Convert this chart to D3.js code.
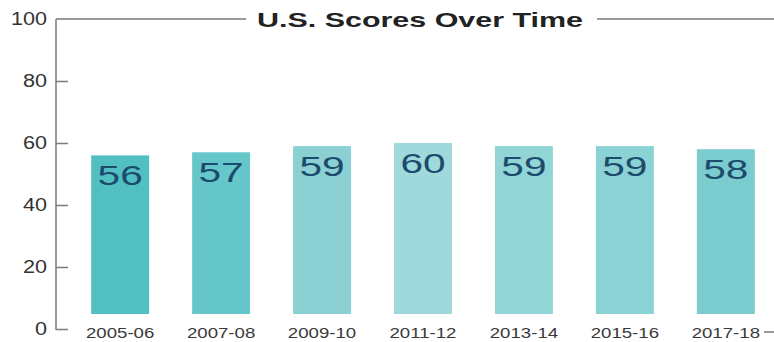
<!DOCTYPE html>
<html>
<head>
<meta charset="utf-8">
<script src="https://cdn.jsdelivr.net/npm/d3@7"></script>
<style>
  html, body { margin: 0; padding: 0; background: #fff; }
  svg { display: block; font-family: "Liberation Sans", Arial, Helvetica, sans-serif; }
</style>
</head>
<body>
<svg id="chart" width="774" height="342"></svg>
<script>
// School years and U.S. scores
const years = ["2005-06", "2007-08", "2009-10", "2011-12", "2013-14", "2015-16", "2017-18"];
const scores = [56, 57, 59, 60, 59, 59, 58];
const barColors = ["#52c0c3", "#65c7c9", "#8bd1d3", "#9fd9db", "#92d5d6", "#8bd2d4", "#7bcccf"];
const yTicks = [0, 20, 40, 60, 80, 100];
const title = "U.S. Scores Over Time";

const svg = d3.select("#chart");
const axisColor = "#7a7a7a";

const y = d3.scaleLinear().domain([0, 100]).range([329, 19]);
const x = d3.scaleBand().domain(years).range([71, 775]).paddingInner(0.426).paddingOuter(0.2);

// widen glyphs horizontally by factor k
function stretch(sel, k) {
  sel.each(function () {
    const len = this.getComputedTextLength();
    d3.select(this).attr("textLength", len * k).attr("lengthAdjust", "spacingAndGlyphs");
  });
}

// bars float a little above the baseline
const baseGap = 15;
svg.append("g").selectAll("rect")
  .data(scores)
  .join("rect")
  .attr("x", (d, i) => x(years[i]))
  .attr("width", x.bandwidth())
  .attr("y", d => y(d))
  .attr("height", d => y(0) - baseGap - y(d))
  .attr("fill", (d, i) => barColors[i]);

// value labels inside bar tops
svg.append("g").selectAll("text")
  .data(scores)
  .join("text")
  .attr("x", (d, i) => x(years[i]) + x.bandwidth() / 2)
  .attr("y", d => y(d) + 30)
  .attr("text-anchor", "middle")
  .attr("font-size", 28)
  .attr("fill", "#1c4b6c")
  .text(d => d)
  .call(stretch, 1.45);

// y axis
const yAxis = svg.append("g")
  .attr("transform", "translate(56,0)")
  .call(d3.axisRight(y).tickValues(yTicks).tickSize(12).tickFormat(""));
yAxis.select(".domain").remove();
yAxis.selectAll(".tick line").attr("stroke", axisColor).attr("stroke-width", 1.5);
yAxis.select(".tick:last-of-type line").remove();
svg.append("line")
  .attr("x1", 56).attr("x2", 56)
  .attr("y1", y(100)).attr("y2", y(0) + 1)
  .attr("stroke", axisColor).attr("stroke-width", 1.5);

svg.append("g").selectAll("text")
  .data(yTicks)
  .join("text")
  .attr("x", 47)
  .attr("y", d => y(d))
  .attr("dy", "0.36em")
  .attr("text-anchor", "end")
  .attr("font-size", 18)
  .attr("fill", "#333")
  .text(d => d)
  .call(stretch, 1.2);

// title set into the top rule
svg.append("text")
  .attr("x", 420)
  .attr("y", 27)
  .attr("text-anchor", "middle")
  .attr("font-size", 21)
  .attr("font-weight", "bold")
  .attr("fill", "#222")
  .text(title)
  .call(stretch, 1.45);

svg.append("line")
  .attr("x1", 56).attr("x2", 246)
  .attr("y1", y(100)).attr("y2", y(100))
  .attr("stroke", axisColor).attr("stroke-width", 1.5);
svg.append("line")
  .attr("x1", 597).attr("x2", 774)
  .attr("y1", y(100)).attr("y2", y(100))
  .attr("stroke", axisColor).attr("stroke-width", 1.5);

// category labels
svg.append("g").selectAll("text")
  .data(years)
  .join("text")
  .attr("x", d => x(d) + x.bandwidth() / 2)
  .attr("y", 338)
  .attr("text-anchor", "middle")
  .attr("font-size", 14)
  .attr("fill", "#3a3a3a")
  .text(d => d)
  .call(stretch, 1.33);

// trailing baseline stub at the right end
svg.append("line")
  .attr("x1", 764).attr("x2", 774)
  .attr("y1", 332).attr("y2", 332)
  .attr("stroke", axisColor).attr("stroke-width", 1.5);
</script>
</body>
</html>
